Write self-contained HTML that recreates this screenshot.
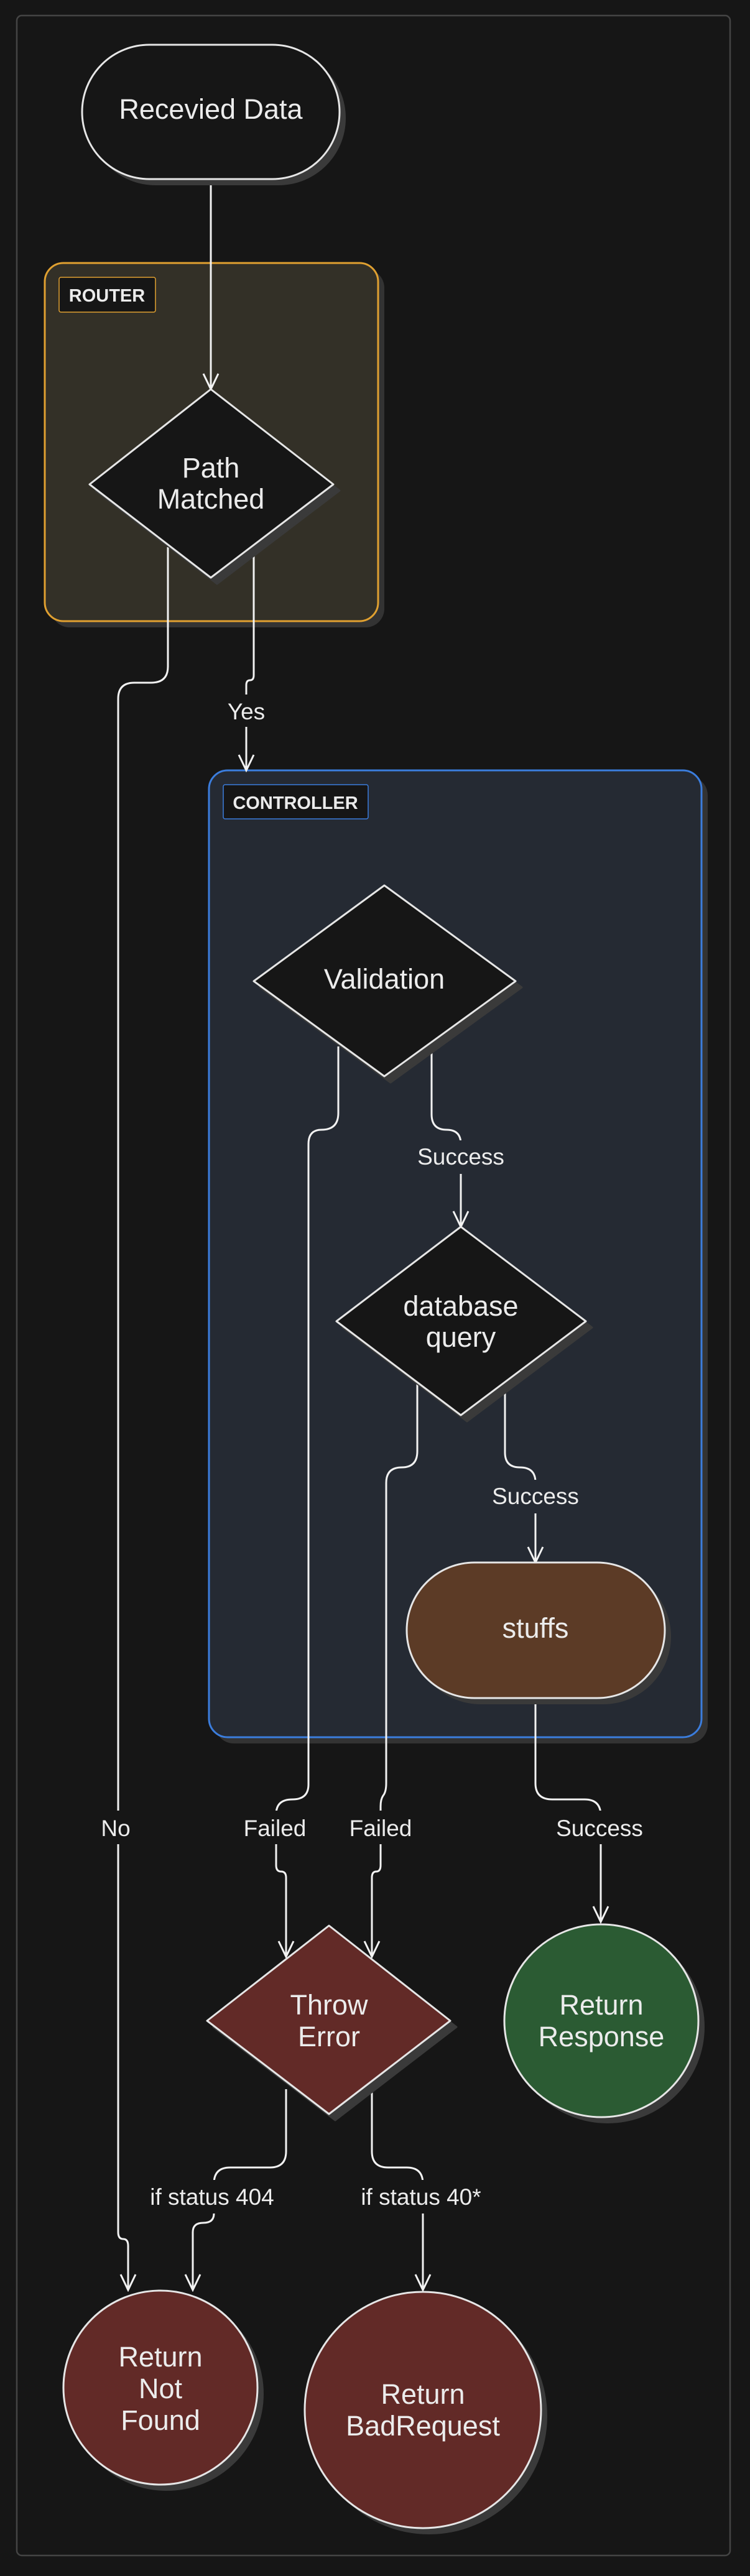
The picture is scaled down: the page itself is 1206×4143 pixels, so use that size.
<!DOCTYPE html>
<html><head><meta charset="utf-8"><style>
html,body{margin:0;padding:0;background:#161616;}
svg{display:block;}
text{font-family:"Liberation Sans",sans-serif;fill:#ececec;}
</style></head><body>
<svg width="1206" height="4143" viewBox="0 0 1206 4143" xmlns="http://www.w3.org/2000/svg">
<defs>
<marker id="ar" markerWidth="30" markerHeight="30" refX="27" refY="15" orient="auto" markerUnits="userSpaceOnUse" viewBox="0 0 30 30">
<path d="M2 3 L27 15 L2 27" fill="none" stroke="#f2f2f2" stroke-width="3"/>
</marker>
</defs>
<rect width="1206" height="4143" fill="#161616"/>
<rect x="27" y="25" width="1147" height="4085" rx="8" fill="none" stroke="#444" stroke-width="2.5"/>

<!-- Router -->
<rect x="82" y="433" width="536" height="576" rx="30" fill="#333"/>
<rect x="72" y="423" width="536" height="576" rx="30" fill="#333027" stroke="#e0a030" stroke-width="3"/>
<rect x="95" y="446" width="155" height="56" rx="3" fill="#161616" stroke="#e0a030" stroke-width="1.5"/>
<text x="172" y="485" font-size="29" font-weight="bold" text-anchor="middle">ROUTER</text>

<!-- Controller -->
<rect x="346" y="1249" width="792" height="1555" rx="30" fill="#333"/>
<rect x="336" y="1239" width="792" height="1555" rx="30" fill="#252a33" stroke="#3b7ddd" stroke-width="3"/>
<rect x="359" y="1262" width="233" height="55" rx="3" fill="#161616" stroke="#3b7ddd" stroke-width="1.5"/>
<text x="475" y="1301" font-size="29" font-weight="bold" text-anchor="middle">CONTROLLER</text>

<!-- connectors -->
<g fill="none" stroke="#f2f2f2" stroke-width="3">
<path d="M339 288 V626" marker-end="url(#ar)"/>
<path d="M270 880 V1072 Q270 1098 243 1098 H216 Q190 1098 190 1124 V3590 Q190 3601 198 3601 Q206 3601 206 3612 V3683" marker-end="url(#ar)"/>
<path d="M408 884 V1086 Q408 1094 402 1094 Q396 1094 396 1102 V1239" marker-end="url(#ar)"/>
<path d="M544 1683 V1790 Q544 1817 517 1817 Q496 1817 496 1840 V2870 Q496 2894 470 2894 Q444 2894 444 2918 V3000 Q444 3010 452 3010 Q460 3010 460 3020 V3147" marker-end="url(#ar)"/>
<path d="M694 1683 V1792 Q694 1817 718 1817 Q741 1817 741 1840 V1973" marker-end="url(#ar)"/>
<path d="M671 2225 V2334 Q671 2360 646 2360 Q621 2360 621 2385 V2868 Q621 2882 616 2888 Q612 2894 612 2905 V3000 Q612 3010 605 3010 Q598 3010 598 3020 V3147" marker-end="url(#ar)"/>
<path d="M812 2225 V2336 Q812 2360 836 2360 Q861 2360 861 2384 V2513" marker-end="url(#ar)"/>
<path d="M861 2731 V2868 Q861 2894 888 2894 H940 Q966 2894 966 2920 V3091" marker-end="url(#ar)"/>
<path d="M460 3360 V3460 Q460 3486 434 3486 H370 Q344 3486 344 3512 V3560 Q344 3575 327 3575 Q310 3575 310 3590 V3683" marker-end="url(#ar)"/>
<path d="M598 3360 V3460 Q598 3486 624 3486 H654 Q680 3486 680 3512 V3683" marker-end="url(#ar)"/>
</g>

<!-- nodes -->
<rect x="142" y="82" width="414" height="216" rx="108" fill="#3a3a3a"/>
<rect x="132" y="72" width="414" height="216" rx="108" fill="#161616" stroke="#e6e6e6" stroke-width="3"/>
<text x="339" y="191" font-size="45" text-anchor="middle">Recevied Data</text>

<path d="M349 636 L546 789 L349 939 L154 789 Z" fill="#3a3a3a" stroke="#3a3a3a" stroke-width="3" stroke-linejoin="round"/>
<path d="M339 626 L536 779 L339 929 L144 779 Z" fill="#161616" stroke="#e6e6e6" stroke-width="3" stroke-linejoin="round"/>
<text x="339" y="768" font-size="45" text-anchor="middle">Path</text>
<text x="339" y="818" font-size="45" text-anchor="middle">Matched</text>

<path d="M628 1434 L839 1588 L628 1741 L418 1588 Z" fill="#3a3a3a" stroke="#3a3a3a" stroke-width="3" stroke-linejoin="round"/>
<path d="M618 1424 L829 1578 L618 1731 L408 1578 Z" fill="#161616" stroke="#e6e6e6" stroke-width="3" stroke-linejoin="round"/>
<text x="618" y="1590" font-size="45" text-anchor="middle">Validation</text>

<path d="M751 1983 L952 2135 L751 2286 L551 2135 Z" fill="#3a3a3a" stroke="#3a3a3a" stroke-width="3" stroke-linejoin="round"/>
<path d="M741 1973 L942 2125 L741 2276 L541 2125 Z" fill="#161616" stroke="#e6e6e6" stroke-width="3" stroke-linejoin="round"/>
<text x="741" y="2116" font-size="45" text-anchor="middle">database</text>
<text x="741" y="2166" font-size="45" text-anchor="middle">query</text>

<rect x="664" y="2523" width="415" height="218" rx="109" fill="#3a3a3a"/>
<rect x="654" y="2513" width="415" height="218" rx="109" fill="#5c3b26" stroke="#e6e6e6" stroke-width="3"/>
<text x="861" y="2634" font-size="45" text-anchor="middle">stuffs</text>

<path d="M539 3107 L734 3260 L539 3410 L343 3260 Z" fill="#3a3a3a" stroke="#3a3a3a" stroke-width="3" stroke-linejoin="round"/>
<path d="M529 3097 L724 3250 L529 3400 L333 3250 Z" fill="#622a27" stroke="#e6e6e6" stroke-width="3" stroke-linejoin="round"/>
<text x="529" y="3240" font-size="45" text-anchor="middle">Throw</text>
<text x="529" y="3291" font-size="45" text-anchor="middle">Error</text>

<ellipse cx="977" cy="3260" rx="156" ry="155" fill="#3a3a3a"/>
<ellipse cx="967" cy="3250" rx="156" ry="155" fill="#2b5b33" stroke="#e6e6e6" stroke-width="3"/>
<text x="967" y="3240" font-size="45" text-anchor="middle">Return</text>
<text x="967" y="3291" font-size="45" text-anchor="middle">Response</text>

<ellipse cx="268" cy="3850" rx="156" ry="156" fill="#3a3a3a"/>
<ellipse cx="258" cy="3840" rx="156" ry="156" fill="#622a27" stroke="#e6e6e6" stroke-width="3"/>
<text x="258" y="3806" font-size="45" text-anchor="middle">Return</text>
<text x="258" y="3857" font-size="45" text-anchor="middle">Not</text>
<text x="258" y="3908" font-size="45" text-anchor="middle">Found</text>

<ellipse cx="690" cy="3886" rx="190" ry="190" fill="#3a3a3a"/>
<ellipse cx="680" cy="3876" rx="190" ry="190" fill="#622a27" stroke="#e6e6e6" stroke-width="3"/>
<text x="680" y="3866" font-size="45" text-anchor="middle">Return</text>
<text x="680" y="3917" font-size="45" text-anchor="middle">BadRequest</text>

<!-- edge labels -->
<g font-size="37" text-anchor="middle">
<rect x="356" y="1117" width="80" height="52" fill="#161616"/>
<text x="396" y="1157">Yes</text>
<rect x="655" y="1834" width="172" height="54" fill="#252a33"/>
<text x="741" y="1873">Success</text>
<rect x="775" y="2380" width="172" height="54" fill="#252a33"/>
<text x="861" y="2419">Success</text>
<rect x="146" y="2912" width="84" height="54" fill="#161616"/>
<text x="186" y="2953">No</text>
<rect x="378" y="2912" width="132" height="54" fill="#161616"/>
<text x="442" y="2953">Failed</text>
<rect x="546" y="2912" width="132" height="54" fill="#161616"/>
<text x="612" y="2953">Failed</text>
<rect x="878" y="2912" width="176" height="54" fill="#161616"/>
<text x="964" y="2953">Success</text>
<rect x="226" y="3506" width="230" height="54" fill="#161616"/>
<text x="341" y="3546">if status 404</text>
<rect x="564" y="3506" width="230" height="54" fill="#161616"/>
<text x="677" y="3546">if status 40*</text>
</g>
</svg>
</body></html>
